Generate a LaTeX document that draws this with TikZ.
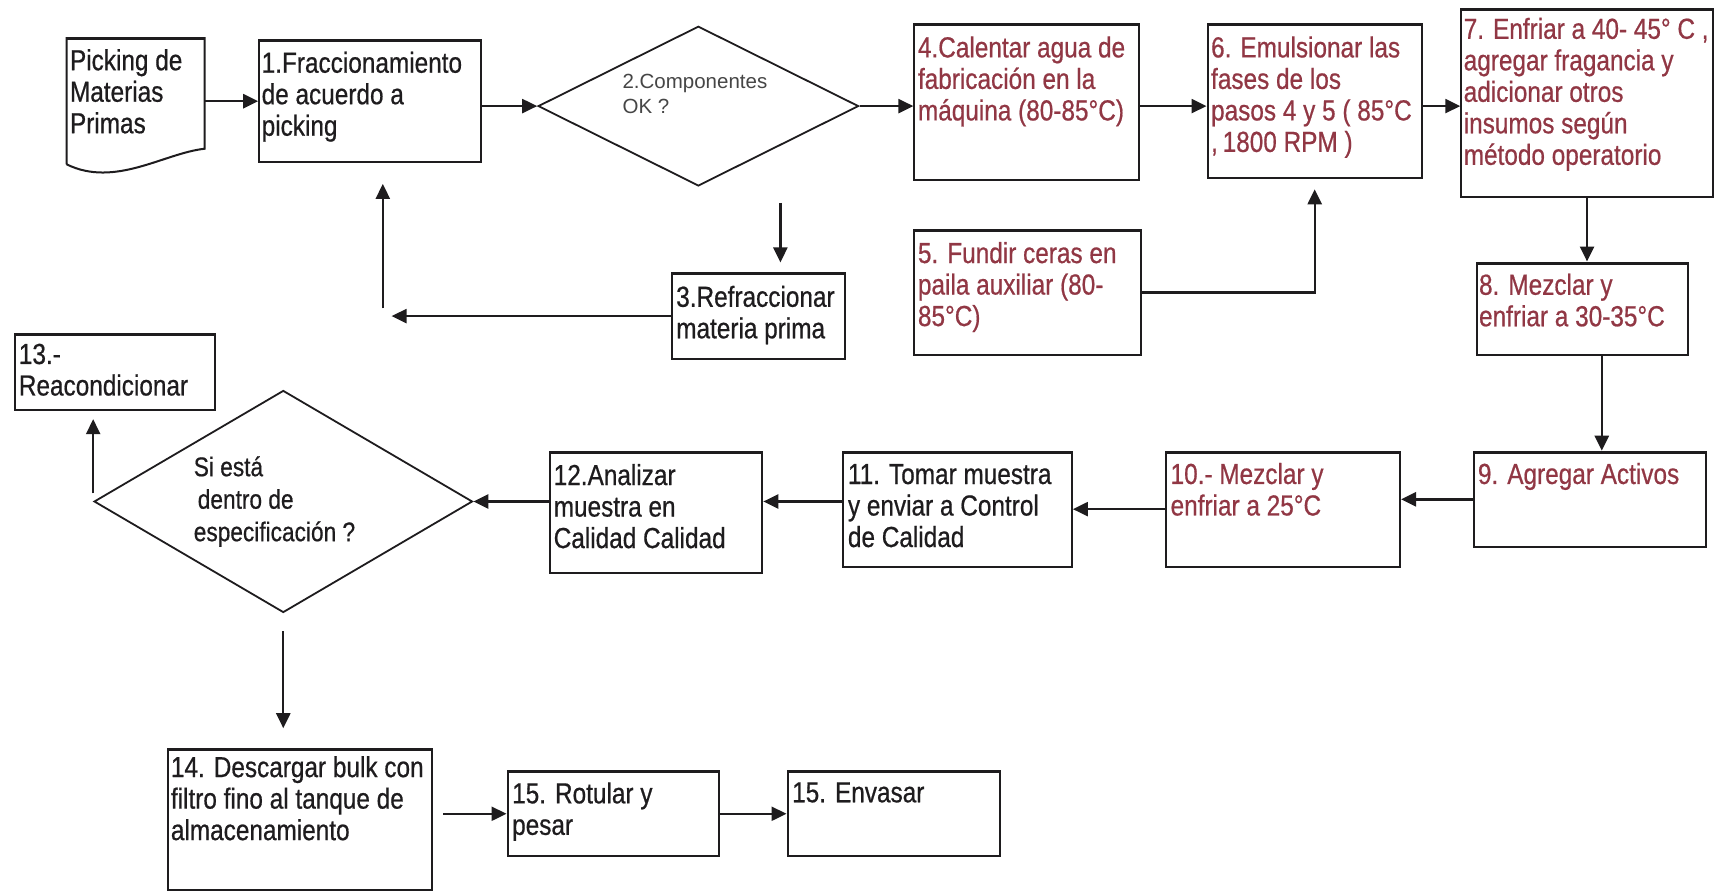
\documentclass[tikz,border=0pt]{standalone}
\usepackage{fontspec}
\setmainfont{Liberation Sans}[FakeStretch=0.84,FakeBold=0.6]
\newfontfamily\plainsans{Liberation Sans}
\usetikzlibrary{arrows.meta,shapes.geometric,fit,calc}
\definecolor{stepred}{RGB}{145,55,68}
\definecolor{ink}{RGB}{30,28,30}
\definecolor{softink}{RGB}{70,70,70}
\begin{document}
\begin{tikzpicture}[x=1.09375pt,y=-1.09375pt,
  box/.style={draw=ink,line width=2pt,inner sep=0pt,
    path picture={\draw[ink,line width=4pt] (path picture bounding box.north west) -- (path picture bounding box.north east);}},
  txt/.style={anchor=north west,inner sep=0pt,align=left,font=\fontsize{29}{31.5}\selectfont,text=ink},
  rtxt/.style={txt,text=stepred},
  arr/.style={draw=ink,line width=2.4pt,-{Triangle[length=15pt,width=14pt]}},
  dia/.style={draw=ink,line width=1.8pt,diamond,inner sep=0pt}
]
\fill[white] (0,0) rectangle (1568,816);
\useasboundingbox (0,0) rectangle (1568,816);

% document shape
\node[fit={(61,35)(187,150)},inner sep=0pt] (doc) {};
\draw[ink,line width=2pt] (doc.south west) -- (doc.north west) -- (doc.north east) -- (187,136)
  .. controls (150,140) and (105,172) .. (doc.south west);
\draw[ink,line width=3pt] (doc.north west) -- (doc.north east);
\node[txt] (tdoc) at ($(doc.north west)+(3,10)$) {Picking de\\Materias\\Primas};

% boxes
\node[box,fit={(237,37)(440,148)}] (b1) {};
\node[txt] (t1) at ($(b1.north west)+(3,11)$) {1.Fraccionamiento\\de acuerdo a\\picking};

\node[dia,minimum width=320.5pt,minimum height=159.7pt] (d1) at (638.5,97) {};
\node[anchor=north west,inner sep=0pt,align=left,text=softink,font=\plainsans\fontsize{20.5}{25}\selectfont] (td1) at (569,68) {2.Componentes\\OK ?};

\node[box,fit={(836,22)(1041,165)}] (b4) {};
\node[rtxt] (t4) at ($(b4.north west)+(4,12)$) {4.Calentar agua de\\fabricación en la\\máquina (80-85°C)};

\node[box,fit={(1104,22)(1300,163)}] (b6) {};
\node[rtxt] (t6) at ($(b6.north west)+(4,12)$) {6. Emulsionar las\\fases de los\\pasos 4 y 5 ( 85°C\\,\,1800 RPM )};

\node[box,fit={(1336,8)(1566,180)}] (b7) {};
\node[rtxt] (t7) at ($(b7.north west)+(3,9)$) {7. Enfriar a 40- 45° C ,\\agregar fragancia y\\adicionar otros\\insumos según\\método operatorio};

\node[box,fit={(1350,240)(1543,325)}] (b8) {};
\node[rtxt] (t8) at ($(b8.north west)+(3,11)$) {8. Mezclar y\\enfriar a 30-35°C};

\node[box,fit={(1348,413)(1560,500)}] (b9) {};
\node[rtxt] (t9) at ($(b9.north west)+(4,11)$) {9. Agregar Activos};

\node[box,fit={(1066,413)(1280,518)}] (b10) {};
\node[rtxt] (t10) at ($(b10.north west)+(5,11)$) {10.- Mezclar y\\enfriar a 25°C};

\node[box,fit={(771,413)(980,518)}] (b11) {};
\node[txt] (t11) at ($(b11.north west)+(5,12)$) {11. Tomar muestra\\y enviar a Control\\de Calidad};

\node[box,fit={(503,413)(697,524)}] (b12) {};
\node[txt] (t12) at ($(b12.north west)+(4,12)$) {12.Analizar\\muestra en\\Calidad Calidad};

\node[dia,minimum width=378.4pt,minimum height=222pt] (d2) at (259,458.5) {};
\node[txt,font=\fontsize{27}{32.5}\selectfont] (td2) at (177,417) {Si está\\\hspace{4pt}dentro de\\especificación ?};

\node[box,fit={(14,305)(197,375)}] (b13) {};
\node[txt] (t13) at ($(b13.north west)+(4,10)$) {13.-\\Reacondicionar};

\node[box,fit={(154,685)(395,814)}] (b14) {};
\node[txt] (t14) at ($(b14.north west)+(3,7)$) {14. Descargar bulk con\\filtro fino al tanque de\\almacenamiento};

\node[box,fit={(464,705)(657,783)}] (b15a) {};
\node[txt] (t15a) at ($(b15a.north west)+(5,11)$) {15. Rotular y\\pesar};

\node[box,fit={(720,705)(914,783)}] (b15b) {};
\node[txt] (t15b) at ($(b15b.north west)+(5,11)$) {15. Envasar};

\node[box,fit={(614,250)(773,328)}] (b3) {};
\node[txt] (t3) at ($(b3.north west)+(5,12)$) {3.Refraccionar\\materia prima};

\node[box,fit={(836,210)(1043,325)}] (b5) {};
\node[rtxt] (t5) at ($(b5.north west)+(4,12)$) {5. Fundir ceras en\\paila auxiliar (80-\\85°C)};

% connectors
\draw[arr] (doc.east) -- (b1.west);
\draw[arr] (b1.east |- d1.west) -- (d1.west);
\draw[arr] (d1.east) -- (d1.east -| b4.west);
\draw[arr] (b4.east |- d1.east) -- (b6.west |- d1.east);
\draw[arr] (b6.east |- d1.east) -- (b7.west |- d1.east);
\draw[arr] (b7.south) -- (b7.south |- b8.north);
\coordinate (c89) at ($(b8.south)+(18,0)$);
\draw[arr] (c89) -- (c89 |- b9.north);
\draw[arr] (b9.west) -- (b9.west -| b10.east);
\draw[arr] (b10.west) -- (b10.west -| b11.east);
\draw[arr] (b11.west |- d2.east) -- (b12.east |- d2.east);
\draw[arr] (b12.west |- d2.east) -- (d2.east);
\draw[arr,shorten <=8pt,shorten >=8pt] (d2.west) -- (d2.west |- b13.south);
\draw[arr,shorten <=18pt,shorten >=20pt] (d2.south) -- (d2.south |- b14.north);
\draw[arr,shorten <=10pt] (b14.east |- b15a.west) -- (b15a.west);
\draw[arr] (b15a.east) -- (b15b.west);
\coordinate (c23) at ($(b3.north)+(20,0)$);
\draw[arr,shorten <=16pt,shorten >=10pt] (c23 |- d1.south) -- (c23);
\coordinate (fbh) at (358,289);
\draw[arr] (b3.west) -- (fbh);
\coordinate (fbv) at (350,282);
\draw[arr,shorten >=21pt] (fbv) -- (fbv |- b1.south);
\draw[arr,shorten >=10pt] (b5.east) -| (b6.south);
\end{tikzpicture}
\end{document}
